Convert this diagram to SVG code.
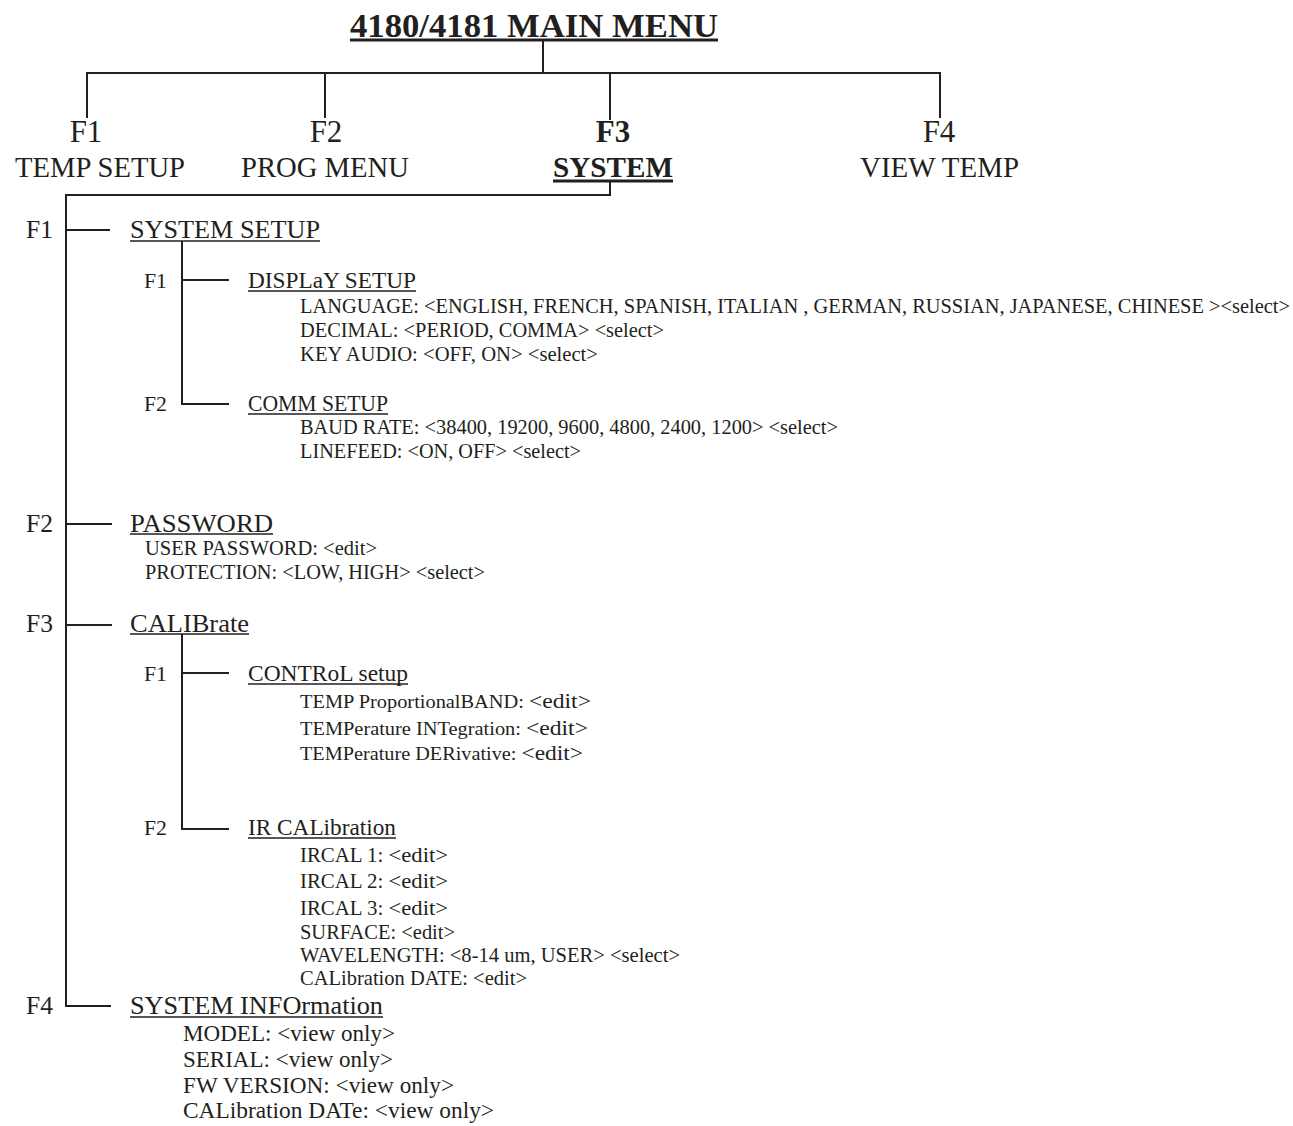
<svg xmlns="http://www.w3.org/2000/svg" width="1293" height="1126" viewBox="0 0 1293 1126">
<style>
text{font-family:"Liberation Serif","Times New Roman",serif;fill:#231f20}
.b{font-weight:bold}
.t{font-size:34.5px;font-weight:bold}
.fk{font-size:31px}
.nm{font-size:28.5px}
.m{font-size:25.5px}
.h1{font-size:26px}
.sk{font-size:21.5px}
.h2{font-size:23px}
.d{font-size:20.3px}
.d2{font-size:19px}
.big{font-size:22px}
.v{font-size:23px}
line,path{stroke:#231f20;stroke-width:2;fill:none}
.ul{stroke-width:1.5}
.ulb{stroke-width:3}
</style>
<rect width="1293" height="1126" fill="#fff"/>
<g id="connectors">
<line x1="543" y1="41" x2="543" y2="73"/>
<line x1="86" y1="73" x2="941" y2="73"/>
<line x1="87" y1="73" x2="87" y2="118"/>
<line x1="325" y1="73" x2="325" y2="118"/>
<line x1="610" y1="73" x2="610" y2="120"/>
<line x1="940" y1="73" x2="940" y2="118"/>
<path d="M610 182V195H66V1006H111"/>
<line x1="66" y1="230" x2="110" y2="230"/>
<line x1="66" y1="524" x2="112" y2="524"/>
<line x1="66" y1="625" x2="112" y2="625"/>
<path d="M182 241V404H229"/>
<line x1="182" y1="280" x2="229" y2="280"/>
<path d="M182 634V829H229"/>
<line x1="182" y1="673" x2="229" y2="673"/>
</g>
<g id="title">
<text class="t" x="350" y="37" textLength="368" lengthAdjust="spacingAndGlyphs">4180/4181 MAIN MENU</text>
<line class="ulb" x1="350" y1="40" x2="718" y2="40"/>
</g>
<g id="f1-temp-setup">
<text class="fk" x="86" y="142" text-anchor="middle">F1</text>
<text class="nm" x="15" y="177" textLength="170" lengthAdjust="spacingAndGlyphs">TEMP SETUP</text>
</g>
<g id="f2-prog-menu">
<text class="fk" x="326" y="142" text-anchor="middle">F2</text>
<text class="nm" x="241" y="177" textLength="168" lengthAdjust="spacingAndGlyphs">PROG MENU</text>
</g>
<g id="f3-system">
<text class="fk b" x="613" y="142" text-anchor="middle">F3</text>
<text class="nm b" x="553" y="177" textLength="120" lengthAdjust="spacingAndGlyphs">SYSTEM</text>
<line class="ulb" x1="553" y1="181" x2="673" y2="181"/>
</g>
<g id="f4-view-temp">
<text class="fk" x="939" y="142" text-anchor="middle">F4</text>
<text class="nm" x="860" y="177" textLength="159" lengthAdjust="spacingAndGlyphs">VIEW TEMP</text>
</g>
<g id="system-setup">
<text class="m" x="26" y="238" textLength="27" lengthAdjust="spacingAndGlyphs">F1</text>
<text class="h1" x="130" y="238" textLength="190" lengthAdjust="spacingAndGlyphs">SYSTEM SETUP</text>
<line class="ul" x1="130" y1="241" x2="320" y2="241"/>
</g>
<g id="display-setup">
<text class="sk" x="144" y="288" textLength="23" lengthAdjust="spacingAndGlyphs">F1</text>
<text class="h2" x="248" y="288" textLength="168" lengthAdjust="spacingAndGlyphs">DISPLaY SETUP</text>
<line class="ul" x1="248" y1="291" x2="416" y2="291"/>
<text class="d" x="300" y="313" textLength="990" lengthAdjust="spacingAndGlyphs">LANGUAGE: &lt;ENGLISH, FRENCH, SPANISH, ITALIAN , GERMAN, RUSSIAN, JAPANESE, CHINESE &gt;&lt;select&gt;</text>
<text class="d" x="300" y="337" textLength="364" lengthAdjust="spacingAndGlyphs">DECIMAL: &lt;PERIOD, COMMA&gt; &lt;select&gt;</text>
<text class="d" x="300" y="361" textLength="298" lengthAdjust="spacingAndGlyphs">KEY AUDIO: &lt;OFF, ON&gt; &lt;select&gt;</text>
</g>
<g id="comm-setup">
<text class="sk" x="144" y="411" textLength="23" lengthAdjust="spacingAndGlyphs">F2</text>
<text class="h2" x="248" y="411" textLength="140" lengthAdjust="spacingAndGlyphs">COMM SETUP</text>
<line class="ul" x1="248" y1="414" x2="388" y2="414"/>
<text class="d" x="300" y="434" textLength="538" lengthAdjust="spacingAndGlyphs">BAUD RATE: &lt;38400, 19200, 9600, 4800, 2400, 1200&gt; &lt;select&gt;</text>
<text class="d" x="300" y="458" textLength="281" lengthAdjust="spacingAndGlyphs">LINEFEED: &lt;ON, OFF&gt; &lt;select&gt;</text>
</g>
<g id="password">
<text class="m" x="26" y="532" textLength="27" lengthAdjust="spacingAndGlyphs">F2</text>
<text class="h1" x="130" y="532" textLength="143" lengthAdjust="spacingAndGlyphs">PASSWORD</text>
<line class="ul" x1="130" y1="534" x2="273" y2="534"/>
<text class="d" x="145" y="555" textLength="232" lengthAdjust="spacingAndGlyphs">USER PASSWORD: &lt;edit&gt;</text>
<text class="d" x="145" y="579" textLength="340" lengthAdjust="spacingAndGlyphs">PROTECTION: &lt;LOW, HIGH&gt; &lt;select&gt;</text>
</g>
<g id="calibrate">
<text class="m" x="26" y="632" textLength="27" lengthAdjust="spacingAndGlyphs">F3</text>
<text class="h1" x="130" y="632" textLength="119" lengthAdjust="spacingAndGlyphs">CALIBrate</text>
<line class="ul" x1="130" y1="634" x2="249" y2="634"/>
</g>
<g id="control-setup">
<text class="sk" x="144" y="681" textLength="23" lengthAdjust="spacingAndGlyphs">F1</text>
<text class="h2" x="248" y="681" textLength="160" lengthAdjust="spacingAndGlyphs">CONTRoL setup</text>
<line class="ul" x1="248" y1="684" x2="408" y2="684"/>
<text class="d2" x="300" y="708" textLength="291" lengthAdjust="spacingAndGlyphs">TEMP ProportionalBAND: <tspan class="big">&lt;edit&gt;</tspan></text>
<text class="d2" x="300" y="735" textLength="288" lengthAdjust="spacingAndGlyphs">TEMPerature INTegration: <tspan class="big">&lt;edit&gt;</tspan></text>
<text class="d2" x="300" y="760" textLength="283" lengthAdjust="spacingAndGlyphs">TEMPerature DERivative: <tspan class="big">&lt;edit&gt;</tspan></text>
</g>
<g id="ir-calibration">
<text class="sk" x="144" y="835" textLength="23" lengthAdjust="spacingAndGlyphs">F2</text>
<text class="h2" x="248" y="835" textLength="148" lengthAdjust="spacingAndGlyphs">IR CALibration</text>
<line class="ul" x1="248" y1="838" x2="396" y2="838"/>
<text class="d" x="300" y="862" textLength="148" lengthAdjust="spacingAndGlyphs">IRCAL 1: <tspan class="big">&lt;edit&gt;</tspan></text>
<text class="d" x="300" y="888" textLength="148" lengthAdjust="spacingAndGlyphs">IRCAL 2: <tspan class="big">&lt;edit&gt;</tspan></text>
<text class="d" x="300" y="915" textLength="148" lengthAdjust="spacingAndGlyphs">IRCAL 3: <tspan class="big">&lt;edit&gt;</tspan></text>
<text class="d" x="300" y="939" textLength="155" lengthAdjust="spacingAndGlyphs">SURFACE: &lt;edit&gt;</text>
<text class="d" x="300" y="962" textLength="380" lengthAdjust="spacingAndGlyphs">WAVELENGTH: &lt;8-14 um, USER&gt; &lt;select&gt;</text>
<text class="d" x="300" y="985" textLength="227" lengthAdjust="spacingAndGlyphs">CALibration DATE: &lt;edit&gt;</text>
</g>
<g id="system-information">
<text class="m" x="26" y="1014" textLength="27" lengthAdjust="spacingAndGlyphs">F4</text>
<text class="h1" x="130" y="1014" textLength="253" lengthAdjust="spacingAndGlyphs">SYSTEM INFOrmation</text>
<line class="ul" x1="130" y1="1017" x2="383" y2="1017"/>
<text class="v" x="183" y="1041" textLength="212" lengthAdjust="spacingAndGlyphs">MODEL: &lt;view only&gt;</text>
<text class="v" x="183" y="1067" textLength="210" lengthAdjust="spacingAndGlyphs">SERIAL: &lt;view only&gt;</text>
<text class="v" x="183" y="1093" textLength="271" lengthAdjust="spacingAndGlyphs">FW VERSION: &lt;view only&gt;</text>
<text class="v" x="183" y="1118" textLength="311" lengthAdjust="spacingAndGlyphs">CALibration DATe: &lt;view only&gt;</text>
</g>
</svg>
